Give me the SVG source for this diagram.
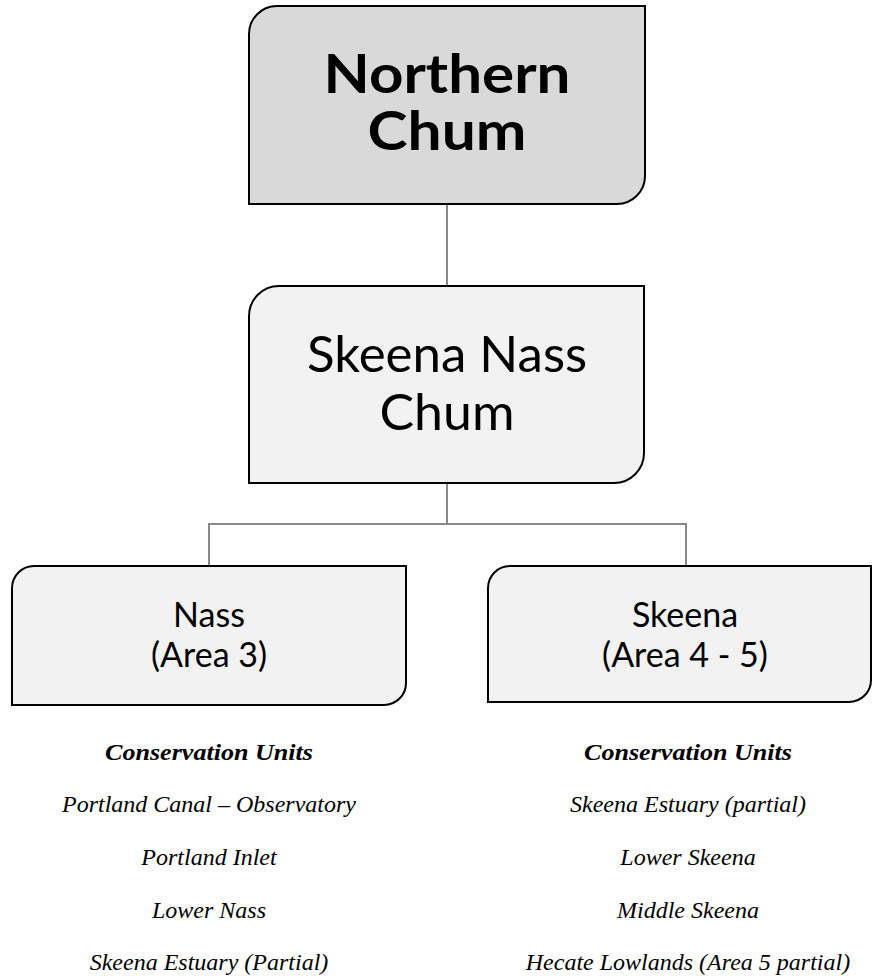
<svg xmlns="http://www.w3.org/2000/svg" width="872" height="978" viewBox="0 0 872 978">
<style>
.box{stroke:#000;stroke-width:2;}
.dark{fill:#d9d9d9;}
.light{fill:#f2f2f2;}
.conn{fill:none;stroke:#888;stroke-width:2;}
.sans{font-family:Lato,"Open Sans","DejaVu Sans",sans-serif;fill:#000;text-anchor:middle;}
.ser{font-family:"Liberation Serif","DejaVu Serif",serif;font-style:italic;font-size:24px;fill:#000;text-anchor:middle;}
.hd{font-weight:bold;}
</style>
<rect width="872" height="978" fill="#fff"/>
<g id="connectors">
<line class="conn" x1="447" y1="204" x2="447" y2="286"/>
<line class="conn" x1="447" y1="483" x2="447" y2="524"/>
<polyline class="conn" points="209,566 209,524 686,524 686,566"/>
</g>
<g id="northern-chum">
<path class="box dark" d="M249,204 V34 A28,28 0 0 1 277,6 H645 V176 A28,28 0 0 1 617,204 Z"/>
<text class="sans" x="447" y="93" font-size="53" font-weight="bold" textLength="247" lengthAdjust="spacingAndGlyphs">Northern</text>
<text class="sans" x="447" y="150" font-size="53" font-weight="bold" textLength="159" lengthAdjust="spacingAndGlyphs">Chum</text>
</g>
<g id="skeena-nass-chum">
<path class="box light" d="M249,483 V316 A30,30 0 0 1 279,286 H644 V453 A30,30 0 0 1 614,483 Z"/>
<text class="sans" x="447" y="372" font-size="51">Skeena Nass</text>
<text class="sans" x="447" y="430" font-size="51" textLength="135" lengthAdjust="spacingAndGlyphs">Chum</text>
</g>
<g id="nass">
<path class="box light" d="M12,705 V588 A22,22 0 0 1 34,566 H406 V683 A22,22 0 0 1 384,705 Z"/>
<text class="sans" x="209" y="627" font-size="34">Nass</text>
<text class="sans" x="209" y="667" font-size="34">(Area 3)</text>
</g>
<g id="skeena">
<path class="box light" d="M488,702 V588 A22,22 0 0 1 510,566 H871 V680 A22,22 0 0 1 849,702 Z"/>
<text class="sans" x="685" y="627" font-size="34">Skeena</text>
<text class="sans" x="685" y="667" font-size="34">(Area 4 - 5)</text>
</g>
<g id="nass-units">
<text class="ser hd" x="209" y="760" textLength="208" lengthAdjust="spacingAndGlyphs">Conservation Units</text>
<text class="ser" x="209" y="812">Portland Canal – Observatory</text>
<text class="ser" x="209" y="865">Portland Inlet</text>
<text class="ser" x="209" y="918">Lower Nass</text>
<text class="ser" x="209" y="970">Skeena Estuary (Partial)</text>
</g>
<g id="skeena-units">
<text class="ser hd" x="688" y="760" textLength="208" lengthAdjust="spacingAndGlyphs">Conservation Units</text>
<text class="ser" x="688" y="812">Skeena Estuary (partial)</text>
<text class="ser" x="688" y="865">Lower Skeena</text>
<text class="ser" x="688" y="918">Middle Skeena</text>
<text class="ser" x="688" y="970">Hecate Lowlands (Area 5 partial)</text>
</g>
</svg>
